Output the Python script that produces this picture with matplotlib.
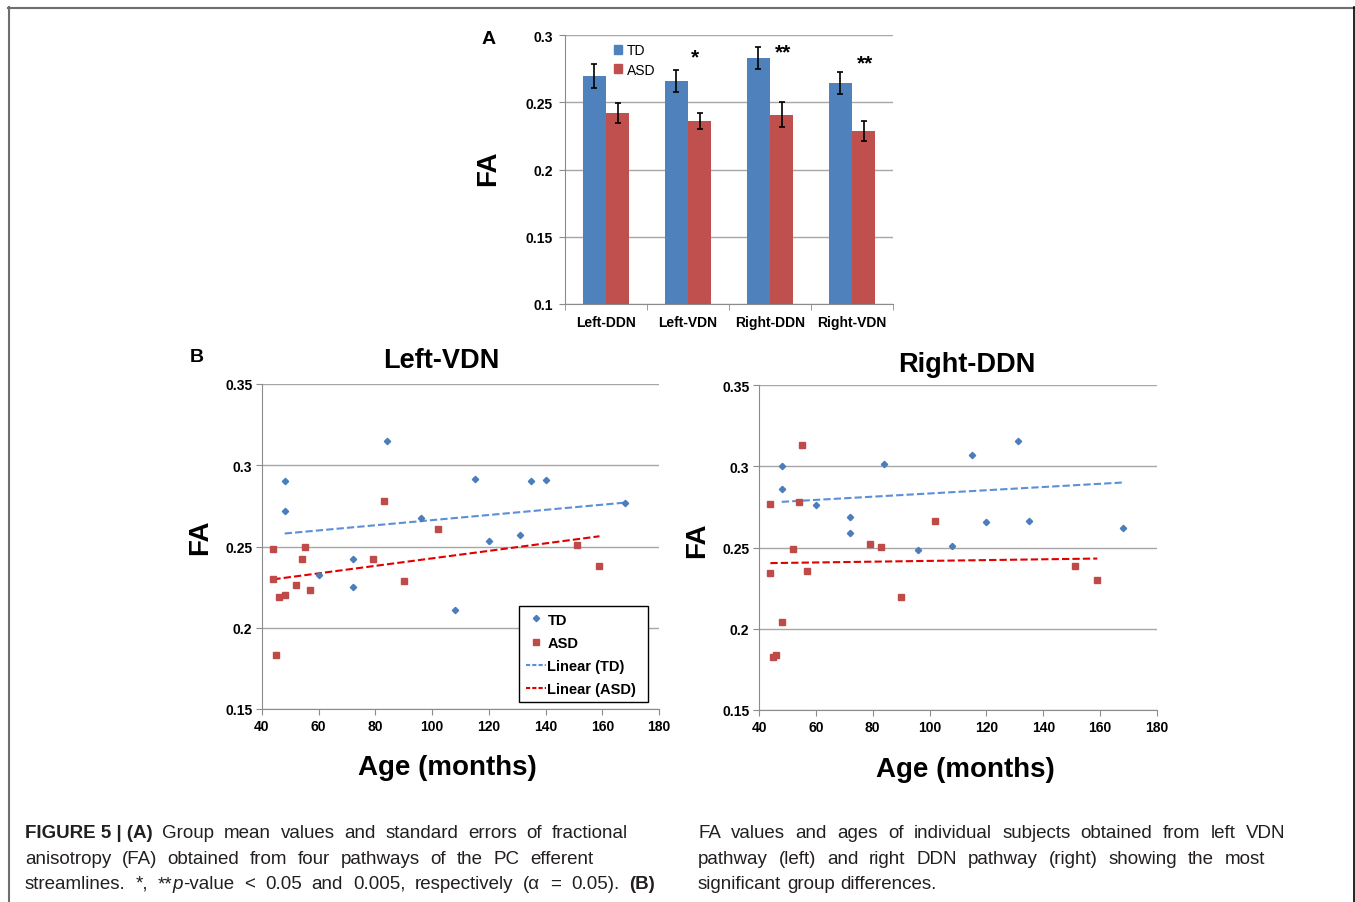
import matplotlib
matplotlib.use('Agg')
import matplotlib.pyplot as plt
from matplotlib.lines import Line2D
from matplotlib.patches import Patch
import numpy as np

plt.rcParams['font.family'] = ['Liberation Sans', 'DejaVu Sans']

# ---------------- data ----------------
pathways = ['Left-DDN', 'Left-VDN', 'Right-DDN', 'Right-VDN']
td_mean = [0.2695, 0.2656, 0.2829, 0.2646]
td_se = [0.0090, 0.0082, 0.0082, 0.0082]
asd_mean = [0.2418, 0.2363, 0.2408, 0.2284]
asd_se = [0.0074, 0.0060, 0.0092, 0.0074]
signif = ['', '*', '**', '**']
signif_y = [0.0, 0.2855, 0.2898, 0.2812]
signif_dx = [0.0, 0.086, 0.16, 0.16]

ytick_A = [0.1, 0.15, 0.2, 0.25, 0.3]
ytick_A_lab = ['0.1', '0.15', '0.2', '0.25', '0.3']
ytick_B = [0.15, 0.2, 0.25, 0.3, 0.35]
ytick_B_lab = ['0.15', '0.2', '0.25', '0.3', '0.35']
xtick_B = [40, 60, 80, 100, 120, 140, 160, 180]

# Left-VDN
lv_td_age = [48, 48, 84, 60, 72, 72, 96, 108, 115, 120, 131, 135, 140, 168]
lv_td_fa = [0.2905, 0.2716, 0.3147, 0.2322, 0.2425, 0.2249, 0.2675, 0.2109,
            0.2917, 0.2532, 0.2573, 0.2905, 0.2909, 0.2770]
lv_asd_age = [44, 44, 45, 46, 48, 52, 54, 55, 57, 79, 83, 90, 102, 151, 159]
lv_asd_fa = [0.2483, 0.2298, 0.1834, 0.2187, 0.2204, 0.2265, 0.2425, 0.2499,
             0.2232, 0.2421, 0.2778, 0.2290, 0.2610, 0.2511, 0.2380]
lv_trend_td_x = [48, 168]
lv_trend_td_y = [0.2580, 0.2770]
lv_trend_asd_x = [44, 159]
lv_trend_asd_y = [0.2298, 0.2563]

# Right-DDN
rd_td_age = [48, 48, 60, 72, 72, 84, 96, 108, 115, 120, 131, 135, 168]
rd_td_fa = [0.2999, 0.2859, 0.2761, 0.2687, 0.2588, 0.3015, 0.2482, 0.2510,
            0.3069, 0.2658, 0.3155, 0.2666, 0.2621]
rd_asd_age = [44, 44, 45, 46, 48, 52, 54, 55, 57, 79, 83, 90, 102, 151, 159]
rd_asd_fa = [0.2765, 0.2346, 0.1829, 0.1841, 0.2042, 0.2490, 0.2781, 0.3130,
             0.2354, 0.2519, 0.2502, 0.2194, 0.2662, 0.2387, 0.2297]
rd_trend_td_x = [48, 168]
rd_trend_td_y = [0.2781, 0.2900]
rd_trend_asd_x = [44, 159]
rd_trend_asd_y = [0.2404, 0.2432]

# ---------------- figure ----------------
W, H = 1355, 903
fig = plt.figure(figsize=(W / 100, H / 100), dpi=100)
fig.patch.set_facecolor('white')


def rect(l, t, r, b):
    return [l / W, 1 - b / H, (r - l) / W, (b - t) / H]


def fx(px):
    return px / W


def fy(py):
    return 1 - py / H


TD_C = '#4F81BD'
ASD_C = '#C0504D'
SPINE_C = '#8C8C8C'
GRID_C = '#A6A6A6'

# ---------- Panel A ----------
axA = fig.add_axes(rect(565, 36, 893, 305))
xs = np.arange(len(pathways))
bw = 0.284
ekw = dict(ecolor='black', elinewidth=1.2, capsize=2, capthick=1.2)
axA.bar(xs - bw / 2, td_mean, bw, yerr=td_se, color=TD_C, error_kw=ekw, zorder=3)
axA.bar(xs + bw / 2, asd_mean, bw, yerr=asd_se, color=ASD_C, error_kw=ekw, zorder=3)
axA.set_xlim(-0.5, 3.5)
axA.set_ylim(0.1, 0.3)
axA.set_yticks(ytick_A)
axA.set_yticklabels(ytick_A_lab, fontweight='bold', fontsize=10)
axA.set_xticks(xs)
axA.set_xticklabels(pathways, fontweight='bold', fontsize=10)
axA.set_xticks(np.arange(-0.5, 4.0, 1.0), minor=True)
axA.tick_params(axis='x', which='major', length=0, pad=8)
axA.tick_params(axis='x', which='minor', length=4, color=SPINE_C, direction='out')
axA.tick_params(axis='y', length=4, color=SPINE_C, pad=5)
axA.yaxis.grid(True, color=GRID_C, lw=1)
axA.set_axisbelow(True)
for s in ['top', 'right']:
    axA.spines[s].set_visible(False)
for s in ['left', 'bottom']:
    axA.spines[s].set_color(SPINE_C)
for i, s in enumerate(signif):
    if s:
        axA.annotate(s, (xs[i] + signif_dx[i], signif_y[i]), xytext=(0, -6),
                     textcoords='offset points', ha='center', va='baseline',
                     fontsize=15, fontweight='bold')
axA.legend(handles=[Patch(color=TD_C), Patch(color=ASD_C)], labels=['TD', 'ASD'],
           loc='upper left', bbox_to_anchor=((614 - 565) / 328, (305 - 44) / 269),
           frameon=False, fontsize=10, handlelength=0.6, handleheight=0.6,
           handletextpad=0.3, labelspacing=0.4, borderpad=0, borderaxespad=0)
fig.text(fx(488), fy(168), 'FA', rotation=90, ha='center', va='center',
         fontsize=20, fontweight='bold')
fig.text(fx(489), fy(40), 'A', ha='center', va='center', fontsize=14, fontweight='bold')


# ---------- Panel B ----------
def scatter_panel(r, td_age, td_fa, asd_age, asd_fa, ttx, tty, tax, tay):
    ax = fig.add_axes(r)
    ax.plot(ttx, tty, ls=(0, (3.5, 1.5)), lw=1.5, color='#5B8FD8', zorder=2)
    ax.plot(tax, tay, ls=(0, (3.5, 1.5)), lw=1.5, color='#E00000', zorder=2)
    ax.plot(td_age, td_fa, ls='none', marker='D', ms=3.2, color='#4A7EBB', zorder=3)
    ax.plot(asd_age, asd_fa, ls='none', marker='s', ms=4.3, color='#BE4B48', zorder=3)
    ax.set_xlim(40, 180)
    ax.set_ylim(0.15, 0.35)
    ax.set_xticks(xtick_B)
    ax.set_xticklabels([str(v) for v in xtick_B], fontweight='bold', fontsize=10)
    ax.set_yticks(ytick_B)
    ax.set_yticklabels(ytick_B_lab, fontweight='bold', fontsize=10)
    ax.tick_params(length=4, color=SPINE_C, pad=3)
    ax.yaxis.grid(True, color=GRID_C, lw=1)
    ax.set_axisbelow(True)
    for s in ['top', 'right']:
        ax.spines[s].set_visible(False)
    for s in ['left', 'bottom']:
        ax.spines[s].set_color(SPINE_C)
    return ax


axL = scatter_panel(rect(262, 385, 659, 710), lv_td_age, lv_td_fa, lv_asd_age, lv_asd_fa,
                    lv_trend_td_x, lv_trend_td_y, lv_trend_asd_x, lv_trend_asd_y)
axR = scatter_panel(rect(759, 386, 1157, 711), rd_td_age, rd_td_fa, rd_asd_age, rd_asd_fa,
                    rd_trend_td_x, rd_trend_td_y, rd_trend_asd_x, rd_trend_asd_y)

hl = [Line2D([], [], ls='none', marker='D', ms=3.2, color='#4A7EBB'),
      Line2D([], [], ls='none', marker='s', ms=4.3, color='#BE4B48'),
      Line2D([], [], ls=(0, (2, 1)), lw=1.5, color='#5B8FD8'),
      Line2D([], [], ls=(0, (2, 1)), lw=1.5, color='#E00000')]
leg = axL.legend(handles=hl, labels=['TD', 'ASD', 'Linear (TD)', 'Linear (ASD)'],
                 loc='upper left',
                 bbox_to_anchor=((519 - 262) / 397, (710 - 701) / 325,
                                 (648 - 519) / 397, (701 - 607) / 325),
                 mode='expand',
                 prop={'weight': 'bold', 'size': 10.5}, fancybox=False, framealpha=1,
                 edgecolor='black', handlelength=1.4, handletextpad=0.1,
                 labelspacing=0.62, borderpad=0.45, borderaxespad=0)
leg.get_frame().set_linewidth(1.0)

fig.text(fx(441), fy(368), 'Left-VDN', ha='center', va='baseline', fontsize=19.5, fontweight='bold')
fig.text(fx(967), fy(372), 'Right-DDN', ha='center', va='baseline', fontsize=19.5, fontweight='bold')
fig.text(fx(447), fy(775), 'Age (months)', ha='center', va='baseline', fontsize=20, fontweight='bold')
fig.text(fx(965), fy(777), 'Age (months)', ha='center', va='baseline', fontsize=20, fontweight='bold')
fig.text(fx(200), fy(537), 'FA', rotation=90, ha='center', va='center', fontsize=20, fontweight='bold')
fig.text(fx(697), fy(540), 'FA', rotation=90, ha='center', va='center', fontsize=20, fontweight='bold')
fig.text(fx(197), fy(358), 'B', ha='center', va='center', fontsize=14, fontweight='bold')

# ---------- caption ----------
CAP_C = '#231F20'
CAP_SIZE = 13.5
renderer = fig.canvas.get_renderer()
N = {}
B = {'fontweight': 'bold'}
I = {'fontstyle': 'italic'}


def plain(s):
    return [[(w, N)] for w in s.split()]


def draw_line(words, x0, x1, yb, justify=True):
    items = []
    total = 0.0
    for w in words:
        segs = []
        ww = 0.0
        for txt, kw in w:
            t = fig.text(0, 0, txt, fontsize=CAP_SIZE, color=CAP_C, ha='left',
                         va='baseline', **kw)
            wd = t.get_window_extent(renderer).width
            segs.append((t, wd))
            ww += wd
        items.append(segs)
        total += ww
    if justify and len(words) > 1:
        gap = (x1 - x0 - total) / (len(words) - 1)
    else:
        gap = CAP_SIZE * 100 / 72 * 0.3
    x = x0
    for segs in items:
        for t, wd in segs:
            t.set_position((fx(x), fy(yb)))
            x += wd
        x += gap


l1 = [[('FIGURE 5 | (A)', B)]] + plain('Group mean values and standard errors of fractional')
l2 = plain('anisotropy (FA) obtained from four pathways of the PC efferent')
l3 = (plain('streamlines. *,') + [[('**', N), ('p', I), ('-value', N)]]
      + plain('< 0.05 and 0.005, respectively (α = 0.05).') + [[('(B)', B)]])
r1 = plain('FA values and ages of individual subjects obtained from left VDN')
r2 = plain('pathway (left) and right DDN pathway (right) showing the most')
r3 = plain('significant group differences.')

draw_line(l1, 25, 628, 838)
draw_line(l2, 25, 593, 864)
draw_line(l3, 25, 655, 889)
draw_line(r1, 698, 1285, 838)
draw_line(r2, 698, 1265, 864)
draw_line(r3, 698, 0, 889, justify=False)

# ---------- frame ----------
fig.add_artist(Line2D([fx(8), fx(1355)], [fy(8.5), fy(8.5)], transform=fig.transFigure,
                      color='#6E6E6E', lw=1.5))
fig.add_artist(Line2D([fx(8.5), fx(8.5)], [fy(8), fy(903)], transform=fig.transFigure,
                      color='#6E6E6E', lw=1.5))
fig.add_artist(Line2D([fx(1354), fx(1354)], [fy(8), fy(903)], transform=fig.transFigure,
                      color='black', lw=1.2))

fig.savefig('out.png', dpi=100, facecolor='white')
